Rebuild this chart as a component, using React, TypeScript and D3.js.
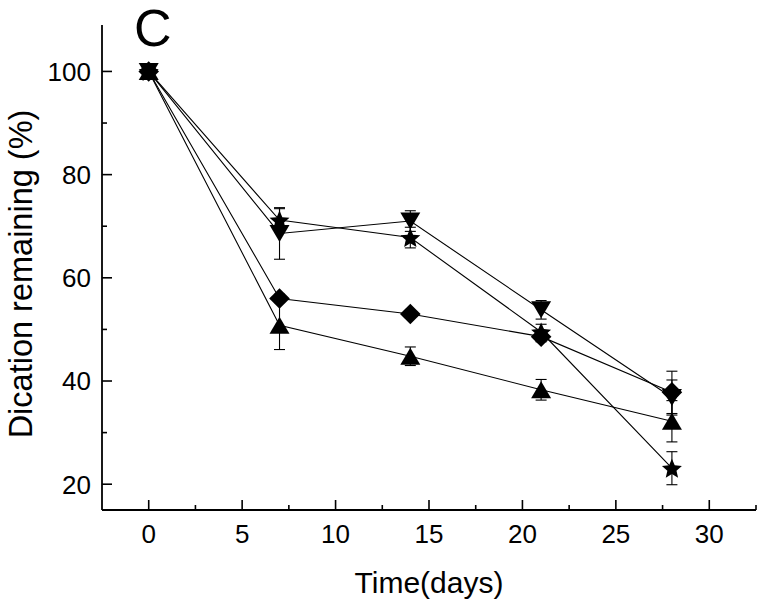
import React from "react";
import * as d3 from "d3";

const days = [0, 7, 14, 21, 28];
const starVals = [100, 71.2, 67.8, 49.5, 23.1];
const starErr = [0, 2.2, 2.0, 1.5, 3.2];
const downVals = [100, 68.6, 71.0, 53.8, 36.8];
const downErr = [0, 5.0, 2.0, 1.8, 3.4];
const diamondVals = [100, 56.0, 53.0, 48.6, 37.8];
const diamondErr = [0, 0.8, 0.5, 1.0, 4.1];
const upVals = [100, 50.8, 44.8, 38.3, 32.2];
const upErr = [0, 4.7, 1.8, 2.0, 4.0];

const xMajor = [0, 5, 10, 15, 20, 25, 30];
const xMinor = [2.5, 7.5, 12.5, 17.5, 22.5, 27.5, 32.5];
const yMajor = [20, 40, 60, 80, 100];
const yMinor = [30, 50, 70, 90];

const W = 764, H = 606;
const left = 102, right = 756, top = 25, bottom = 510;
const FONT = "'Liberation Sans', Arial, Helvetica, sans-serif";

const x = d3.scaleLinear().domain([-2.5, 32.5]).range([left, right]);
const y = d3.scaleLinear().domain([15, 109]).range([bottom, top]);

type Shape = "star" | "down" | "diamond" | "up";

function starPath(outer: number, inner: number): string {
  const pts: [number, number][] = [];
  for (let k = 0; k < 10; k++) {
    const r = k % 2 === 0 ? outer : inner;
    const a = -Math.PI / 2 + (k * Math.PI) / 5;
    pts.push([r * Math.cos(a), r * Math.sin(a)]);
  }
  return d3.line()(pts) + "Z";
}

function markerPath(shape: Shape): string {
  if (shape === "star") return starPath(10.5, 4.8);
  if (shape === "down") return "M-10,-8.5L10,-8.5L0,8.5Z";
  if (shape === "up") return "M-10,8.5L10,8.5L0,-8.5Z";
  return "M0,-10.3L10.3,0L0,10.3L-10.3,0Z";
}

const series: { shape: Shape; vals: number[]; err: number[]; dy: number }[] = [
  { shape: "up", vals: upVals, err: upErr, dy: 0 },
  { shape: "diamond", vals: diamondVals, err: diamondErr, dy: 0 },
  { shape: "down", vals: downVals, err: downErr, dy: 0 },
  { shape: "star", vals: starVals, err: starErr, dy: 1 },
];

export default function App() {
  const line = d3
    .line<number>()
    .x((_, i) => x(days[i]))
    .y((v) => y(v));

  return (
    <svg width={W} height={H} style={{ position: "absolute", left: 0, top: 0, background: "#fff" }}>
      <rect x={0} y={0} width={W} height={H} fill="#fff" />
      {series.map((s) => (
        <path key={"l" + s.shape} d={line(s.vals) as string} fill="none" stroke="#000" strokeWidth={1.1} />
      ))}
      {series.map((s) =>
        s.vals.map((v, i) =>
          s.err[i] > 0 ? (
            <g key={"e" + s.shape + i} stroke="#000" strokeWidth={1.1}>
              <line x1={x(days[i])} x2={x(days[i])} y1={y(v - s.err[i])} y2={y(v + s.err[i])} />
              <line x1={x(days[i]) - 5.5} x2={x(days[i]) + 5.5} y1={y(v - s.err[i])} y2={y(v - s.err[i])} />
              <line x1={x(days[i]) - 5.5} x2={x(days[i]) + 5.5} y1={y(v + s.err[i])} y2={y(v + s.err[i])} />
            </g>
          ) : null
        )
      )}
      {series.map((s) =>
        s.vals.map((v, i) => (
          <path
            key={"m" + s.shape + i}
            d={markerPath(s.shape)}
            transform={`translate(${x(days[i])},${y(v) + s.dy})`}
            fill="#000"
          />
        ))
      )}
      <line x1={left} x2={right} y1={bottom} y2={bottom} stroke="#000" strokeWidth={1.8} />
      <line x1={left} x2={left} y1={top} y2={bottom} stroke="#000" strokeWidth={1.8} />
      {xMajor.map((t) => (
        <g key={"xt" + t}>
          <line x1={x(t)} x2={x(t)} y1={bottom} y2={bottom - 10} stroke="#000" strokeWidth={1.6} />
          <text x={x(t)} y={bottom + 33} textAnchor="middle" fontFamily={FONT} fontSize={26} fill="#000">
            {t}
          </text>
        </g>
      ))}
      {xMinor.map((t) => (
        <line key={"xm" + t} x1={x(t)} x2={x(t)} y1={bottom} y2={bottom - 5} stroke="#000" strokeWidth={1.6} />
      ))}
      {yMajor.map((t) => (
        <g key={"yt" + t}>
          <line x1={left} x2={left + 10} y1={y(t)} y2={y(t)} stroke="#000" strokeWidth={1.6} />
          <text x={left - 11} y={y(t) + 9.3} textAnchor="end" fontFamily={FONT} fontSize={26} fill="#000">
            {t}
          </text>
        </g>
      ))}
      {yMinor.map((t) => (
        <line key={"ym" + t} x1={left} x2={left + 5} y1={y(t)} y2={y(t)} stroke="#000" strokeWidth={1.6} />
      ))}
      <text x={(left + right) / 2} y={593} textAnchor="middle" fontFamily={FONT} fontSize={30} fill="#000">
        Time(days)
      </text>
      <text
        transform={`translate(32,${274}) rotate(-90)`}
        textAnchor="middle"
        fontFamily={FONT}
        fontSize={32.5}
        fill="#000"
      >
        Dication remaining (%)
      </text>
      <text x={134} y={46} fontFamily={FONT} fontSize={52} fill="#000">
        C
      </text>
    </svg>
  );
}
